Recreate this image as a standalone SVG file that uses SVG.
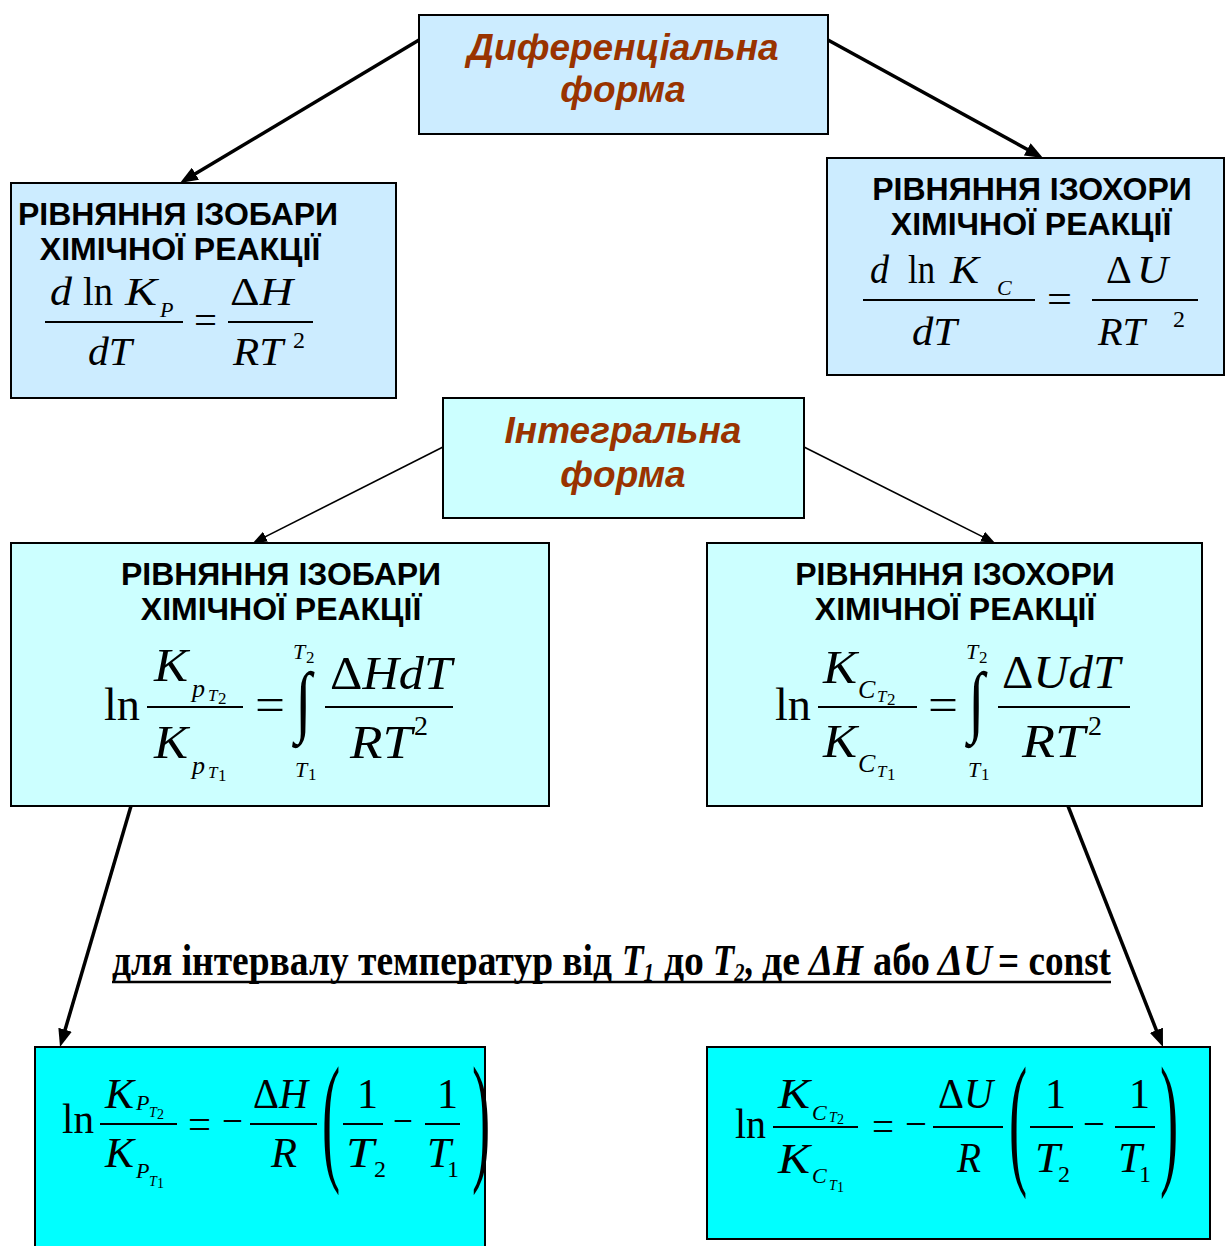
<svg xmlns="http://www.w3.org/2000/svg" width="1225" height="1246" viewBox="0 0 1225 1246">
<style>
.box{stroke:#000;stroke-width:2}
.c1{fill:#CCECFF}.c2{fill:#CCFFFF}.c3{fill:#00FFFF}
.title{font-family:"Liberation Sans",Arial,sans-serif;font-weight:bold;font-style:italic;font-size:37px;fill:#993300;text-anchor:middle}
.head{font-family:"Liberation Sans",Arial,sans-serif;font-weight:bold;font-size:32px;fill:#000;text-anchor:middle}
.m{font-family:"Liberation Serif","Times New Roman",serif;fill:#000}
.i{font-style:italic}
.fl{stroke:#000;stroke-width:2}
.con{stroke:#000;fill:none}
.note{font-family:"Liberation Serif","Times New Roman",serif;font-weight:bold;font-size:44px;fill:#000}
</style>
<defs>
<marker id="ah" viewBox="0 0 10 10" refX="3.33" refY="5" markerWidth="18" markerHeight="14" markerUnits="userSpaceOnUse" orient="auto" preserveAspectRatio="none"><path d="M0,0 L10,5 L0,10 z" fill="#000"/></marker>
<marker id="ahs" viewBox="0 0 10 10" refX="4.29" refY="5" markerWidth="14" markerHeight="11" markerUnits="userSpaceOnUse" orient="auto" preserveAspectRatio="none"><path d="M0,0 L10,5 L0,10 z" fill="#000"/></marker>
</defs>
<rect width="1225" height="1246" fill="#fff"/>

<g id="connectors">
<line class="con" stroke-width="3.5" x1="419" y1="40" x2="190.3" y2="176.8" marker-end="url(#ah)"/>
<line class="con" stroke-width="3.5" x1="828" y1="40" x2="1032.5" y2="152.2" marker-end="url(#ah)"/>
<line class="con" stroke-width="1.6" x1="443" y1="447" x2="260.1" y2="539.4" marker-end="url(#ahs)"/>
<line class="con" stroke-width="1.6" x1="804" y1="447" x2="987.9" y2="539.4" marker-end="url(#ahs)"/>
<line class="con" stroke-width="3.5" x1="131" y1="806" x2="63.4" y2="1035.5" marker-end="url(#ah)"/>
<line class="con" stroke-width="3.5" x1="1068" y1="806" x2="1158.6" y2="1035.8" marker-end="url(#ah)"/>
</g>

<g id="diff-form">
<rect class="box c1" x="419" y="15" width="409" height="119"/>
<text class="title" x="623" y="60">Диференціальна</text>
<text class="title" x="623" y="102">форма</text>
</g>

<g id="isobar-diff">
<rect class="box c1" x="11" y="183" width="385" height="215"/>
<text class="head" x="178" y="225">РІВНЯННЯ ІЗОБАРИ</text>
<text class="head" x="180" y="260">ХІМІЧНОЇ РЕАКЦІЇ</text>
<g class="m" font-size="40">
<text class="i" x="50" y="305" textLength="22" lengthAdjust="spacingAndGlyphs">d</text>
<text x="83" y="305" textLength="30" lengthAdjust="spacingAndGlyphs">ln</text>
<text class="i" x="125" y="305" textLength="32" lengthAdjust="spacingAndGlyphs">K</text>
<text class="i" x="160" y="317" font-size="22">P</text>
<line class="fl" x1="45" y1="322" x2="183" y2="322"/>
<text x="194" y="334" textLength="23" lengthAdjust="spacingAndGlyphs">=</text>
<text x="230" y="305" textLength="63" lengthAdjust="spacingAndGlyphs">Δ<tspan class="i">H</tspan></text>
<line class="fl" x1="228" y1="322" x2="313" y2="322"/>
<text class="i" x="88" y="365" textLength="44" lengthAdjust="spacingAndGlyphs">dT</text>
<text class="i" x="233" y="365" textLength="50" lengthAdjust="spacingAndGlyphs">RT</text>
<text x="293" y="348" font-size="24">2</text>
</g>
</g>

<g id="isochore-diff">
<rect class="box c1" x="827" y="158" width="397" height="217"/>
<text class="head" x="1032" y="200">РІВНЯННЯ ІЗОХОРИ</text>
<text class="head" x="1031" y="235">ХІМІЧНОЇ РЕАКЦІЇ</text>
<g class="m" font-size="40">
<text class="i" x="870" y="283" textLength="19" lengthAdjust="spacingAndGlyphs">d</text>
<text x="908" y="283" textLength="27" lengthAdjust="spacingAndGlyphs">ln</text>
<text class="i" x="950" y="283" textLength="29" lengthAdjust="spacingAndGlyphs">K</text>
<text class="i" x="997" y="295" font-size="22">C</text>
<line class="fl" x1="863" y1="300" x2="1035" y2="300"/>
<text x="1047" y="313" textLength="25" lengthAdjust="spacingAndGlyphs">=</text>
<text x="1106" y="283">Δ</text>
<text class="i" x="1137" y="283" textLength="31" lengthAdjust="spacingAndGlyphs">U</text>
<line class="fl" x1="1092" y1="300" x2="1198" y2="300"/>
<text class="i" x="912" y="345" textLength="45" lengthAdjust="spacingAndGlyphs">dT</text>
<text class="i" x="1098" y="345" textLength="47" lengthAdjust="spacingAndGlyphs">RT</text>
<text x="1173" y="327" font-size="24">2</text>
</g>
</g>

<g id="int-form">
<rect class="box c2" x="443" y="398" width="361" height="120"/>
<text class="title" x="623" y="443">Інтегральна</text>
<text class="title" x="623" y="487">форма</text>
</g>

<g id="isobar-int">
<rect class="box c2" x="11" y="543" width="538" height="263"/>
<text class="head" x="281" y="585">РІВНЯННЯ ІЗОБАРИ</text>
<text class="head" x="281" y="620">ХІМІЧНОЇ РЕАКЦІЇ</text>
<g class="m" font-size="46" transform="translate(-671 0)">
<text x="775" y="720" textLength="36" lengthAdjust="spacingAndGlyphs">ln</text>
<line class="fl" x1="818" y1="707" x2="914" y2="707"/>
<text class="i" x="825" y="681" textLength="34" lengthAdjust="spacingAndGlyphs">K</text>
<text class="i" x="863" y="697" font-size="26">p</text>
<text class="i" x="879" y="701" font-size="17">T</text>
<text x="889" y="704" font-size="17">2</text>
<text class="i" x="825" y="758" textLength="34" lengthAdjust="spacingAndGlyphs">K</text>
<text class="i" x="863" y="774" font-size="26">p</text>
<text class="i" x="879" y="778" font-size="17">T</text>
<text x="889" y="781" font-size="17">1</text>
<text x="926" y="720" textLength="30" lengthAdjust="spacingAndGlyphs">=</text>
<text transform="translate(966 706) scale(1.3 1.72)" y="12">∫</text>
<text class="i" x="964" y="659" font-size="22">T</text>
<text x="977" y="663" font-size="17">2</text>
<text class="i" x="966" y="777" font-size="22">T</text>
<text x="979" y="780" font-size="17">1</text>
<text x="1001" y="689" textLength="122" lengthAdjust="spacingAndGlyphs">Δ<tspan class="i">HdT</tspan></text>
<line class="fl" x1="996" y1="707" x2="1124" y2="707"/>
<text class="i" x="1021" y="758" textLength="62" lengthAdjust="spacingAndGlyphs">RT</text>
<text x="1085" y="735" font-size="28">2</text>
</g>
</g>

<g id="isochore-int">
<rect class="box c2" x="707" y="543" width="495" height="263"/>
<text class="head" x="955" y="585">РІВНЯННЯ ІЗОХОРИ</text>
<text class="head" x="955" y="620">ХІМІЧНОЇ РЕАКЦІЇ</text>
<g class="m" font-size="46">
<text x="775" y="720" textLength="36" lengthAdjust="spacingAndGlyphs">ln</text>
<line class="fl" x1="818" y1="707" x2="917" y2="707"/>
<text class="i" x="823" y="683" textLength="34" lengthAdjust="spacingAndGlyphs">K</text>
<text class="i" x="858" y="698" font-size="26">C</text>
<text class="i" x="877" y="702" font-size="17">T</text>
<text x="887" y="705" font-size="17">2</text>
<text class="i" x="823" y="757" textLength="34" lengthAdjust="spacingAndGlyphs">K</text>
<text class="i" x="858" y="772" font-size="26">C</text>
<text class="i" x="877" y="777" font-size="17">T</text>
<text x="887" y="780" font-size="17">1</text>
<text x="928" y="720" textLength="30" lengthAdjust="spacingAndGlyphs">=</text>
<text transform="translate(968 706) scale(1.3 1.72)" y="12">∫</text>
<text class="i" x="966" y="659" font-size="22">T</text>
<text x="979" y="663" font-size="17">2</text>
<text class="i" x="968" y="777" font-size="22">T</text>
<text x="981" y="780" font-size="17">1</text>
<text x="1002" y="688" textLength="118" lengthAdjust="spacingAndGlyphs">Δ<tspan class="i">UdT</tspan></text>
<line class="fl" x1="998" y1="707" x2="1130" y2="707"/>
<text class="i" x="1022" y="757" textLength="63" lengthAdjust="spacingAndGlyphs">RT</text>
<text x="1088" y="735" font-size="28">2</text>
</g>
</g>

<g id="note">
<text class="note" x="112" y="975" textLength="500" lengthAdjust="spacingAndGlyphs">для інтервалу температур від</text>
<text class="note i" x="622" y="975" textLength="32" lengthAdjust="spacingAndGlyphs">T<tspan font-size="26" dy="6">1</tspan></text>
<text class="note" x="664" y="975" textLength="40" lengthAdjust="spacingAndGlyphs">до</text>
<text class="note i" x="713" y="975" textLength="40" lengthAdjust="spacingAndGlyphs">T<tspan font-size="26" dy="6">2</tspan><tspan font-style="normal" font-size="44" dy="-6">,</tspan></text>
<text class="note" x="762" y="975" textLength="38" lengthAdjust="spacingAndGlyphs">де</text>
<text class="note i" x="809" y="975" textLength="54" lengthAdjust="spacingAndGlyphs">ΔH</text>
<text class="note" x="873" y="975" textLength="57" lengthAdjust="spacingAndGlyphs">або</text>
<text class="note i" x="938" y="975" textLength="54" lengthAdjust="spacingAndGlyphs">ΔU</text>
<text class="note" x="998" y="975" textLength="113" lengthAdjust="spacingAndGlyphs">= const</text>
<line x1="112" y1="982" x2="1111" y2="982" stroke="#000" stroke-width="2.5"/>
</g>

<g id="isobar-result">
<rect class="box c3" x="35" y="1047" width="450" height="215"/>
<g class="m" font-size="42">
<text x="62" y="1133" textLength="32" lengthAdjust="spacingAndGlyphs">ln</text>
<line class="fl" x1="100" y1="1124" x2="177" y2="1124"/>
<text class="i" x="105" y="1108" textLength="29" lengthAdjust="spacingAndGlyphs">K</text>
<text class="i" x="136" y="1110" font-size="22">P</text>
<text class="i" x="149" y="1117" font-size="14">T</text>
<text x="157" y="1119" font-size="14">2</text>
<text class="i" x="105" y="1167" textLength="29" lengthAdjust="spacingAndGlyphs">K</text>
<text class="i" x="136" y="1178" font-size="22">P</text>
<text class="i" x="149" y="1186" font-size="14">T</text>
<text x="157" y="1188" font-size="14">1</text>
<text x="188" y="1138" textLength="23" lengthAdjust="spacingAndGlyphs">=</text>
<text x="222" y="1135" textLength="21" lengthAdjust="spacingAndGlyphs">−</text>
<text x="253" y="1108" textLength="55" lengthAdjust="spacingAndGlyphs">Δ<tspan class="i">H</tspan></text>
<line class="fl" x1="250" y1="1124" x2="317" y2="1124"/>
<text class="i" x="271" y="1167" textLength="26" lengthAdjust="spacingAndGlyphs">R</text>
<text transform="translate(322 1129) scale(1.3 3.4)" y="10.7">(</text>
<text x="357" y="1108">1</text>
<line class="fl" x1="343" y1="1124" x2="383" y2="1124"/>
<text class="i" x="346" y="1167" textLength="28" lengthAdjust="spacingAndGlyphs">T</text>
<text x="374" y="1177" font-size="24">2</text>
<text x="393" y="1135" textLength="20" lengthAdjust="spacingAndGlyphs">−</text>
<text x="437" y="1108">1</text>
<line class="fl" x1="425" y1="1124" x2="460" y2="1124"/>
<text class="i" x="427" y="1167" textLength="24" lengthAdjust="spacingAndGlyphs">T</text>
<text x="447" y="1177" font-size="24">1</text>
<text transform="translate(472 1129) scale(1.3 3.4)" y="10.7">)</text>
</g>
</g>

<g id="isochore-result">
<rect class="box c3" x="707" y="1047" width="503" height="192"/>
<g class="m" font-size="42">
<text x="735" y="1138" textLength="31" lengthAdjust="spacingAndGlyphs">ln</text>
<line class="fl" x1="773" y1="1127" x2="858" y2="1127"/>
<text class="i" x="778" y="1108" textLength="32" lengthAdjust="spacingAndGlyphs">K</text>
<text class="i" x="812" y="1120" font-size="22">C</text>
<text class="i" x="829" y="1122" font-size="14">T</text>
<text x="837" y="1124" font-size="14">2</text>
<text class="i" x="778" y="1173" textLength="32" lengthAdjust="spacingAndGlyphs">K</text>
<text class="i" x="812" y="1183" font-size="22">C</text>
<text class="i" x="829" y="1190" font-size="14">T</text>
<text x="837" y="1192" font-size="14">1</text>
<text x="872" y="1140" textLength="22" lengthAdjust="spacingAndGlyphs">=</text>
<text x="905" y="1138" textLength="22" lengthAdjust="spacingAndGlyphs">−</text>
<text x="938" y="1108" textLength="55" lengthAdjust="spacingAndGlyphs">Δ<tspan class="i">U</tspan></text>
<line class="fl" x1="933" y1="1127" x2="1003" y2="1127"/>
<text class="i" x="957" y="1172" textLength="24" lengthAdjust="spacingAndGlyphs">R</text>
<text transform="translate(1009 1131) scale(1.3 3.5)" y="10.7">(</text>
<text x="1045" y="1108">1</text>
<line class="fl" x1="1030" y1="1127" x2="1073" y2="1127"/>
<text class="i" x="1035" y="1172" textLength="25" lengthAdjust="spacingAndGlyphs">T</text>
<text x="1058" y="1182" font-size="24">2</text>
<text x="1083" y="1138" textLength="22" lengthAdjust="spacingAndGlyphs">−</text>
<text x="1129" y="1108">1</text>
<line class="fl" x1="1115" y1="1127" x2="1155" y2="1127"/>
<text class="i" x="1118" y="1172" textLength="24" lengthAdjust="spacingAndGlyphs">T</text>
<text x="1139" y="1182" font-size="24">1</text>
<text transform="translate(1160 1131) scale(1.3 3.5)" y="10.7">)</text>
</g>
</g>
</svg>
